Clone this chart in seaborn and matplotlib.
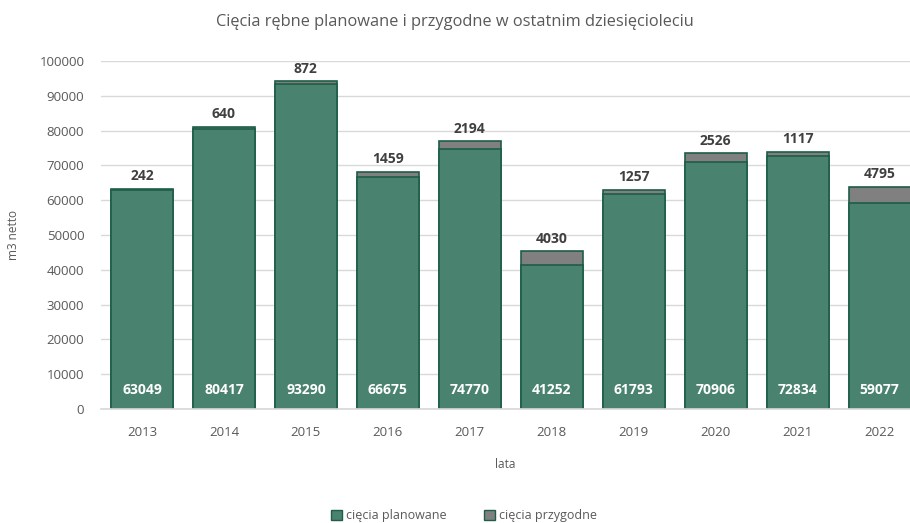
import pandas as pd
import seaborn as sns
import matplotlib.pyplot as plt
from matplotlib.patches import Patch

# Data
years = ["2013", "2014", "2015", "2016", "2017", "2018", "2019", "2020", "2021", "2022"]
planowane = [63049, 80417, 93290, 66675, 74770, 41252, 61793, 70906, 72834, 59077]
przygodne = [242, 640, 872, 1459, 2194, 4030, 1257, 2526, 1117, 4795]

dat = pd.DataFrame({"rok": years, "planowane": planowane, "przygodne": przygodne})
dat["razem"] = dat["planowane"] + dat["przygodne"]

green = "#4a8270"
edge = "#1d5e45"
gray = "#808080"
txt = "#595959"

sns.set_theme(style="white")
plt.rcParams["font.family"] = ["Open Sans", "DejaVu Sans"]

fig = plt.figure(figsize=(9.1, 5.23), dpi=100)
ax = fig.add_axes([101 / 910, 1 - 409 / 523, 809 / 910, 348 / 523])

# stacked bars: total first (gray), planned on top of it (green)
sns.barplot(data=dat, x="rok", y="razem", color=gray, width=0.76,
            edgecolor=edge, linewidth=1.2, saturation=1, ax=ax)
sns.barplot(data=dat, x="rok", y="planowane", color=green, width=0.76,
            edgecolor=edge, linewidth=1.2, saturation=1, ax=ax)

ax.set_ylim(0, 100000)
ax.set_xlim(-0.5, 9.37)
ax.set_yticks(range(0, 100001, 10000))
ax.yaxis.grid(True, color="#d9d9d9", linewidth=1)
ax.set_axisbelow(True)
for s in ["top", "right", "left"]:
    ax.spines[s].set_visible(False)
ax.spines["bottom"].set_color("#d9d9d9")
ax.tick_params(axis="both", length=0, labelsize=9.5, colors=txt)
ax.tick_params(axis="x", pad=12)
ax.tick_params(axis="y", pad=12)

# labels
for i, row in dat.iterrows():
    ax.annotate(f"{row['przygodne']}", (i, row["razem"]), xytext=(0, 4),
                textcoords="offset points", ha="center", va="bottom",
                fontsize=10, fontweight="bold", color="#404040")
    ax.text(i, 5500, f"{row['planowane']}", ha="center", va="center",
            fontsize=10, fontweight="bold", color="white")

ax.set_xlabel("lata", fontsize=8.5, color=txt, labelpad=14)
ax.set_ylabel("m3 netto", fontsize=8.5, color=txt)
ax.yaxis.set_label_coords(-0.1, 0.5)
fig.text(0.5, 1 - 22 / 523, "Cięcia rębne planowane i przygodne w ostatnim dziesięcioleciu",
         ha="center", va="center", fontsize=11.8, color=txt)

handles = [Patch(facecolor=green, edgecolor=edge, label="cięcia planowane"),
           Patch(facecolor=gray, edgecolor=edge, label="cięcia przygodne")]
fig.legend(handles=handles, loc="center", bbox_to_anchor=(0.51, 1 - 516 / 523),
           ncol=2, frameon=False, fontsize=9, labelcolor=txt,
           handlelength=0.9, handleheight=0.9, handletextpad=0.3, columnspacing=3)

plt.savefig("out.png", dpi=100)
